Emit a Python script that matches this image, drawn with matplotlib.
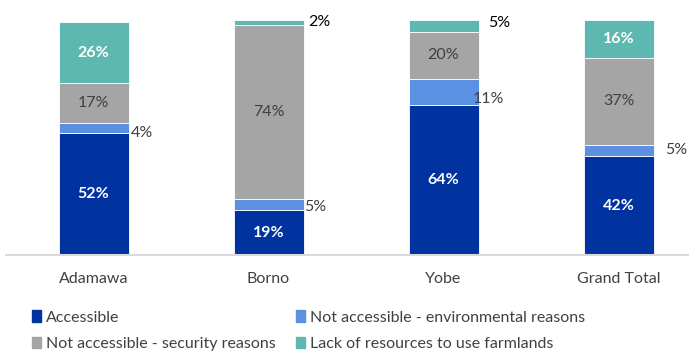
import matplotlib.pyplot as plt
from matplotlib.patches import Patch

plt.rcParams['font.family'] = ['Lato', 'DejaVu Sans']

states = ['Adamawa', 'Borno', 'Yobe', 'Grand Total']
accessible = [52, 19, 64, 42]
env_reasons = [4, 5, 11, 5]
security_reasons = [17, 74, 20, 37]
lack_resources = [26, 2, 5, 16]

series_names = ['Accessible', 'Not accessible - environmental reasons',
                'Not accessible - security reasons', 'Lack of resources to use farmlands']
colors = ['#0033A0', '#5B90E2', '#A5A5A5', '#5DB8B1']

W, H = 689, 351
fig = plt.figure(figsize=(W / 100, H / 100), dpi=100)
ax = fig.add_axes([6 / W, (H - 255) / H, 682.5 / W, 235 / H])

x = list(range(len(states)))
width = 0.4
bottoms = [0] * len(states)
bars = []
for vals, c in zip([accessible, env_reasons, security_reasons, lack_resources], colors):
    ax.bar(x, vals, width, bottom=bottoms, color=c, edgecolor='white', linewidth=0.6)
    bars.append((vals, list(bottoms)))
    bottoms = [a + v for a, v in zip(bottoms, vals)]

fs = 11.5

# labels inside the segments
for i in x:
    v, b = bars[0][0][i], bars[0][1][i]
    ax.text(i, b + v / 2, f'{v}%', ha='center', va='center', color='white',
            fontsize=fs, fontweight='bold')
    v, b = bars[2][0][i], bars[2][1][i]
    ax.text(i, b + v / 2, f'{v}%', ha='center', va='center', color='#404040', fontsize=fs)

# environmental reasons: labels beside the bar
env_off = [(2, -5), (1, -3), (-6, -7), (12, 0)]
for i in x:
    v, b = bars[1][0][i], bars[1][1][i]
    ax.annotate(f'{v}%', (i + width / 2, b + v / 2), xytext=env_off[i],
                textcoords='offset pixels', ha='left', va='center',
                color='#404040', fontsize=fs)

# lack of resources: inside when big enough, otherwise beside
lack_off = {1: (5, 0), 2: (10, 3)}
for i in x:
    v, b = bars[3][0][i], bars[3][1][i]
    if i in lack_off:
        ax.annotate(f'{v}%', (i + width / 2, b + v / 2), xytext=lack_off[i],
                    textcoords='offset pixels', ha='left', va='center',
                    color='black', fontsize=fs)
    else:
        ax.text(i, b + v / 2, f'{v}%', ha='center', va='center', color='white',
                fontsize=fs, fontweight='bold')

ax.set_xlim(-0.5, 3.4)
ax.set_ylim(0, 100)
ax.set_yticks([])
ax.set_xticks(x)
ax.set_xticklabels(states, fontsize=fs, color='#404040')
ax.tick_params(axis='x', length=0, pad=12)
for s in ['top', 'right', 'left']:
    ax.spines[s].set_visible(False)
ax.spines['bottom'].set_color('#D9D9D9')
ax.spines['bottom'].set_linewidth(1.5)

order = [0, 2, 1, 3]
handles = [Patch(color=colors[k]) for k in order]
labels = [series_names[k] for k in order]
fig.legend(handles, labels, ncol=2, loc='upper left', bbox_to_anchor=(18 / W, 1 - 296 / H),
           frameon=False, fontsize=fs, labelcolor='#404040', handlelength=0.55,
           handleheight=0.7, handletextpad=0.3, columnspacing=1.3, labelspacing=0.75)

fig.savefig('out.png', dpi=100)
